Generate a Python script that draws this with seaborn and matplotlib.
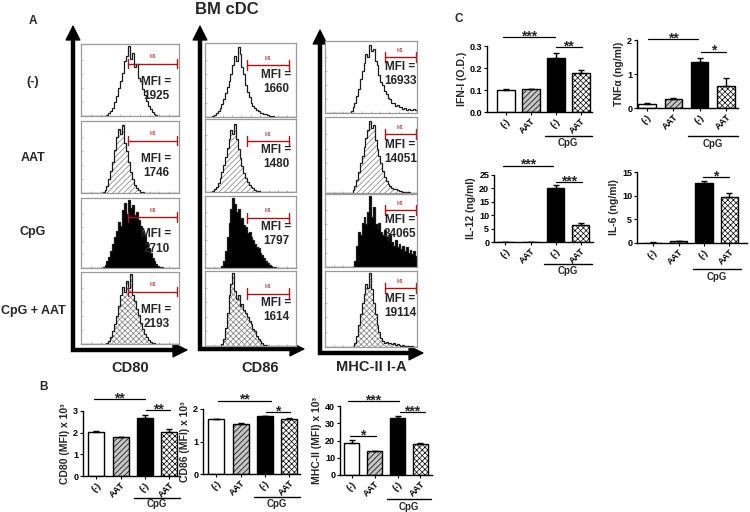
import numpy as np
import matplotlib
matplotlib.use("Agg")
import matplotlib.pyplot as plt
import matplotlib.transforms as mtransforms
import seaborn as sns

sns.set_theme(style="white")
plt.rcParams['font.family'] = ['Liberation Sans', 'DejaVu Sans']
plt.rcParams['font.weight'] = 'bold'
plt.rcParams['hatch.linewidth'] = 0.5

# ---------------- data ----------------
conditions = ["(-)", "AAT", "CpG", "CpG + AAT"]
markers = ["CD80", "CD86", "MHC-II I-A"]
mfi_cd80 = [1925, 1746, 2710, 2193]
mfi_cd86 = [1660, 1480, 1797, 1614]
mfi_mhc = [16933, 14051, 34065, 19114]

# histogram heights (50 equal bins across each box, relative to box height)
hist_cd80_neg = [0]*13 + [0.02, 0.04, 0.07, 0.12, 0.2, 0.28, 0.4, 0.5, 0.62, 0.78, 0.86, 1.0, 0.82,
                          0.9, 0.7, 0.74, 0.55, 0.5, 0.38, 0.3, 0.22, 0.15, 0.1, 0.06, 0.03, 0.01] + [0]*11
hist_cd80_aat = [0]*11 + [0.02, 0.05, 0.1, 0.2, 0.32, 0.45, 0.62, 0.8, 0.92, 0.85, 0.97, 0.72, 0.6,
                          0.45, 0.3, 0.2, 0.12, 0.07, 0.04, 0.02, 0.01] + [0]*18
hist_cd80_cpg = [0]*11 + [0.02, 0.05, 0.1, 0.16, 0.25, 0.35, 0.45, 0.55, 0.68, 0.62, 0.85, 0.95, 0.8,
                          1.0, 0.88, 0.92, 0.78, 0.82, 0.7, 0.62, 0.55, 0.48, 0.38, 0.3, 0.22, 0.15,
                          0.1, 0.06, 0.03, 0.02, 0.01] + [0]*8
hist_cd80_cpg_aat = [0]*13 + [0.02, 0.05, 0.1, 0.18, 0.28, 0.4, 0.55, 0.7, 0.82, 0.75, 0.9, 0.8, 1.0,
                              0.7, 0.62, 0.5, 0.42, 0.3, 0.22, 0.15, 0.1, 0.06, 0.03, 0.02, 0.01] + [0]*12
hist_cd86_neg = [0]*4 + [0.02, 0.03, 0.05, 0.08, 0.12, 0.18, 0.25, 0.33, 0.42, 0.5, 0.6, 0.72, 0.85,
                         0.78, 0.97, 0.88, 0.7, 0.6, 0.45, 0.35, 0.28, 0.2, 0.16, 0.12, 0.1, 0.08,
                         0.06, 0.05, 0.04, 0.04, 0.03, 0.02, 0.02, 0.01] + [0]*12
hist_cd86_aat = [0]*4 + [0.02, 0.04, 0.07, 0.12, 0.2, 0.28, 0.38, 0.5, 0.62, 0.75, 0.88, 0.82, 0.96,
                         0.75, 0.6, 0.48, 0.36, 0.27, 0.2, 0.14, 0.1, 0.07, 0.05, 0.03, 0.02, 0.01] + [0]*20
hist_cd86_cpg = [0]*9 + [0.03, 0.1, 0.25, 0.45, 0.65, 0.85, 1.0, 0.92, 0.8, 0.85, 0.7, 0.72, 0.62,
                         0.58, 0.5, 0.52, 0.44, 0.4, 0.35, 0.3, 0.28, 0.22, 0.18, 0.14, 0.1, 0.07,
                         0.05, 0.03, 0.02, 0.01] + [0]*11
hist_cd86_cpg_aat = [0]*9 + [0.03, 0.1, 0.25, 0.45, 0.7, 0.85, 1.0, 0.75, 0.65, 0.7, 0.55, 0.58, 0.5,
                             0.45, 0.4, 0.35, 0.3, 0.24, 0.2, 0.14, 0.1, 0.07, 0.04, 0.02, 0.01] + [0]*16
hist_mhc_neg = [0]*14 + [0.03, 0.08, 0.15, 0.25, 0.35, 0.48, 0.6, 0.72, 0.85, 0.8, 0.97, 0.88, 0.92,
                         0.75, 0.68, 0.55, 0.45, 0.4, 0.32, 0.27, 0.22, 0.2, 0.15, 0.14, 0.1, 0.11,
                         0.08, 0.09, 0.06, 0.07, 0.05, 0.06, 0.04, 0.05, 0.06, 0.04]
hist_mhc_aat = [0]*15 + [0.04, 0.1, 0.18, 0.28, 0.4, 0.5, 0.62, 0.75, 0.85, 0.97, 0.88, 0.92, 0.72,
                         0.6, 0.5, 0.4, 0.3, 0.22, 0.16, 0.12, 0.1, 0.07, 0.06, 0.05, 0.04, 0.03,
                         0.03, 0.02, 0.02, 0.01, 0.01] + [0]*4
hist_mhc_cpg = [0]*16 + [0.08, 0.3, 0.5, 0.45, 0.62, 0.7, 0.6, 0.78, 1.0, 0.7, 0.85, 0.6, 0.55,
                         0.62, 0.5, 0.45, 0.52, 0.42, 0.38, 0.45, 0.35, 0.3, 0.38, 0.28, 0.32, 0.25,
                         0.3, 0.22, 0.28, 0.2, 0.24, 0.18, 0.22, 0.15]
hist_mhc_cpg_aat = [0]*16 + [0.05, 0.15, 0.3, 0.45, 0.6, 0.72, 0.85, 0.8, 1.0, 0.78, 0.6, 0.45, 0.3,
                             0.2, 0.12, 0.08, 0.06, 0.07, 0.05, 0.06, 0.04, 0.05, 0.03, 0.04, 0.03,
                             0.02, 0.03, 0.02, 0.02, 0.01, 0.01, 0.01, 0, 0]

bar_groups = ["(-)", "AAT", "CpG (-)", "CpG AAT"]
bar_ticklabels = ["(-)", "AAT", "(-)", "AAT"]
cd80_mean = [2.03, 1.8, 2.68, 2.03]
cd80_err = [0.03, 0.02, 0.12, 0.13]
cd86_mean = [1.69, 1.54, 1.78, 1.69]
cd86_err = [0.015, 0.015, 0.01, 0.02]
mhc_mean = [18.5, 13.9, 33.0, 18.0]
mhc_err = [1.6, 0.2, 1.2, 0.6]
ifn_mean = [0.100, 0.103, 0.245, 0.177]
ifn_err = [0.004, 0.002, 0.022, 0.016]
tnf_mean = [0.12, 0.26, 1.35, 0.65]
tnf_err = [0.03, 0.02, 0.12, 0.23]
il12_mean = [0.0, 0.0, 20.1, 6.3]
il12_err = [0.0, 0.0, 1.1, 0.8]
il6_mean = [0.1, 0.35, 12.7, 9.7]
il6_err = [0.05, 0.1, 0.4, 0.9]

# ---------------- figure ----------------
W, H = 750, 512
fig = plt.figure(figsize=(W / 100, H / 100), dpi=100)


def add_ax(x0, y0, x1, y1, **kw):
    return fig.add_axes([x0 / W, 1 - y1 / H, (x1 - x0) / W, (y1 - y0) / H], **kw)


ov = add_ax(0, 0, W, H)
ov.set_xlim(0, W)
ov.set_ylim(H, 0)
ov.axis('off')

# panel labels & titles
ov.text(33, 21, "A", ha='center', va='center', fontsize=8.5, weight='bold')
ov.text(44, 387, "B", ha='center', va='center', fontsize=8.5, weight='bold')
ov.text(459, 19, "C", ha='center', va='center', fontsize=8.5, weight='bold')
ov.text(227, 9, "BM cDC", ha='center', va='center', fontsize=12, weight='bold')

row_label_y = [82, 158, 232, 311]
for lab, yy in zip(conditions, row_label_y):
    ov.text(33, yy, lab, ha='center', va='center', fontsize=9, weight='bold')

col_label_xy = [(130, 368), (260, 368), (371, 367)]
for lab, (xx, yy) in zip(markers, col_label_xy):
    ov.text(xx, yy, lab, ha='center', va='center', fontsize=10.5, weight='bold')

# big axis arrows
arrow_geo = [(73, 22, 350, 191), (200, 22, 349, 308), (320, 26, 353, 427)]
for ax_x, top_y, corner_y, right_x in arrow_geo:
    ov.plot([ax_x, ax_x, right_x - 8], [top_y + 8, corner_y, corner_y], color='black',
            lw=3.2, solid_joinstyle='miter', solid_capstyle='butt')
    ov.annotate('', xy=(ax_x, top_y), xytext=(ax_x, top_y + 10),
                arrowprops=dict(arrowstyle='-|>,head_width=0.35,head_length=0.7',
                                color='black', lw=1, mutation_scale=14))
    ov.annotate('', xy=(right_x, corner_y), xytext=(right_x - 10, corner_y),
                arrowprops=dict(arrowstyle='-|>,head_width=0.35,head_length=0.7',
                                color='black', lw=1, mutation_scale=14))

# histogram boxes
col_boxes = [
    (81, 179, [(44, 116), (121, 193), (198, 268), (272, 344)]),
    (205, 296, [(43, 117), (119, 192), (196, 268), (271, 346)]),
    (325, 417, [(41, 113), (117, 193), (194, 267), (271, 347)]),
]
hists = [
    [hist_cd80_neg, hist_cd80_aat, hist_cd80_cpg, hist_cd80_cpg_aat],
    [hist_cd86_neg, hist_cd86_aat, hist_cd86_cpg, hist_cd86_cpg_aat],
    [hist_mhc_neg, hist_mhc_aat, hist_mhc_cpg, hist_mhc_cpg_aat],
]
mfis = [mfi_cd80, mfi_cd86, mfi_mhc]
m1_geo = [(0.48, 0.98, 0.75), (0.46, 0.92, 0.72), (0.65, 0.985, 0.80)]
mfi_txt = [(0.77, 0.39), (0.78, 0.49), (0.82, 0.56)]
fills = [
    dict(facecolor='white', hatch=None),
    dict(facecolor='white', hatch='//////'),
    dict(facecolor='black', hatch=None),
    dict(facecolor='white', hatch='xxxxxx'),
]
red = '#a3171b'

for c, (x0, x1, rows) in enumerate(col_boxes):
    for r, (y0, y1) in enumerate(rows):
        ax = add_ax(x0, y0, x1, y1)
        vals = np.array(hists[c][r])
        edges = np.linspace(0, 1, len(vals) + 1)
        f = fills[r]
        if f['hatch']:
            ax.stairs(vals, edges, fill=True, facecolor='white', edgecolor='#7a7a7a',
                      hatch=f['hatch'], linewidth=0)
        elif f['facecolor'] == 'black':
            ax.stairs(vals, edges, fill=True, facecolor='black', edgecolor='black', linewidth=0)
        ax.stairs(vals, edges, color='#1a1a1a', linewidth=0.9)
        ax.set_xlim(0, 1)
        ax.set_ylim(0, 1.03)
        for s in ax.spines.values():
            s.set_color('#9a9a9a')
            s.set_linewidth(0.9)
        ax.set_xticks(np.linspace(0.1, 0.9, 9))
        ax.set_yticks(np.linspace(0.2, 0.8, 4))
        ax.tick_params(axis='both', direction='in', length=1.5, width=0.5,
                       colors='#9a9a9a', labelleft=False, labelbottom=False,
                       left=True, bottom=True)
        mx0, mx1, my = m1_geo[c]
        ax.plot([mx0, mx1], [my, my], color=red, lw=1.0)
        ax.plot([mx0, mx0], [my - 0.07, my + 0.07], color=red, lw=1.0)
        ax.plot([mx1, mx1], [my - 0.07, my + 0.07], color=red, lw=1.0)
        ax.text((mx0 + mx1) / 2, my + 0.06, "M1", color=red, fontsize=3.5,
                ha='center', va='bottom', weight='normal')
        tx, ty = mfi_txt[c]
        ax.text(tx, ty, f"MFI =\n{mfis[c][r]}", ha='center', va='center',
                fontsize=8.5, weight='bold', linespacing=1.25)

# ---------------- bar charts ----------------
bar_face = ['white', '#c4c4c4', 'black', 'white']
bar_hatch = [None, '//////', None, 'xxxxxx']


def bar_panel(box, means, errs, ylim, yticks, yfmt, ylabel, xlim, width,
              sigs, cpg_line_px, cpg_text_px):
    x0, y0, x1, y1 = box
    ax = add_ax(x0, y0, x1, y1)
    sns.barplot(x=bar_groups, y=means, order=bar_groups, hue=bar_groups,
                palette=bar_face, legend=False, width=width, edgecolor='black',
                linewidth=1.0, ax=ax, errorbar=None, saturation=1)
    for p, h in zip(ax.patches, bar_hatch):
        if h:
            p.set_hatch(h)
    ax.errorbar(range(4), means, yerr=[np.zeros(4), errs], fmt='none',
                ecolor='black', elinewidth=1.0, capsize=2.5, capthick=1.0, zorder=3)
    ax.set_xlim(*xlim)
    ax.set_ylim(*ylim)
    ax.set_yticks(yticks)
    ax.set_yticklabels([yfmt.format(t) for t in yticks], fontsize=6.5, weight='bold')
    ax.set_xticks(range(4))
    ax.set_xticklabels(bar_ticklabels, rotation=45, ha='right', rotation_mode='anchor',
                       fontsize=6.5, weight='bold')
    ax.set_xlabel('')
    ax.set_ylabel(ylabel, fontsize=7.5, weight='bold', labelpad=2)
    sns.despine(ax=ax)
    for s in ('left', 'bottom'):
        ax.spines[s].set_linewidth(1.0)
        ax.spines[s].set_color('black')
    ax.tick_params(axis='both', direction='out', length=2.5, width=0.8, pad=1,
                   colors='black', left=True, bottom=True)
    ax.set_facecolor('none')
    for xa, xb, ylev, lab in sigs:
        ax.plot([xa, xb], [ylev, ylev], color='black', lw=0.9, clip_on=False)
        ax.annotate(lab, xy=((xa + xb) / 2, ylev), xytext=(0, -2.2),
                    textcoords='offset points', ha='center', va='baseline',
                    fontsize=10, weight='bold', annotation_clip=False)
    hpx = y1 - y0
    tr = mtransforms.blended_transform_factory(ax.transData, ax.transAxes)
    ax.plot([1.55, 3.45], [-cpg_line_px / hpx] * 2, color='black', lw=1.0,
            transform=tr, clip_on=False)
    ax.text(2.5, -cpg_text_px / hpx, "CpG", ha='center', va='center', fontsize=7,
            weight='bold', transform=tr)
    return ax


# panel B
bar_panel((83, 411, 180, 476), cd80_mean, cd80_err, (0, 3), [0, 1, 2, 3], "{:d}",
          "CD80 (MFI) x 10³", (-0.55, 3.45), 0.66,
          [(-0.1, 2.0, 3.55, "**"), (2.05, 3.05, 3.05, "**")], 22, 28)
bar_panel((203, 409, 300, 474), cd86_mean, cd86_err, (0, 2), [0, 1, 2], "{:d}",
          "CD86 (MFI) x 10³", (-0.55, 3.45), 0.66,
          [(0.05, 2.25, 2.25, "**"), (2.05, 3.05, 1.91, "*")], 23, 30)
bar_panel((340, 406, 432, 475), mhc_mean, mhc_err, (0, 40), [0, 10, 20, 30, 40], "{:d}",
          "MHC-II (MFI) x 10³", (-0.5, 3.5), 0.68,
          [(-0.15, 2.05, 42.9, "***"), (2.1, 3.2, 36.5, "***"), (-0.05, 1.05, 22.6, "*")],
          24, 32)

# panel C
bar_panel((487, 46, 592, 112), ifn_mean, ifn_err, (0, 0.3), [0.0, 0.1, 0.2, 0.3], "{:.1f}",
          "IFN-I (O.D.)", (-0.75, 3.45), 0.7,
          [(-0.1, 1.95, 0.34, "***"), (2.0, 3.05, 0.295, "**")], 24, 31)
bar_panel((637, 40, 738, 108), tnf_mean, tnf_err, (0, 2), [0, 1, 2], "{:d}",
          "TNFα (ng/ml)", (-0.38, 3.45), 0.66,
          [(0.05, 1.95, 2.03, "**"), (2.05, 3.0, 1.65, "*")], 28, 36)
bar_panel((494, 175, 593, 242), il12_mean, il12_err, (0, 25), [0, 5, 10, 15, 20, 25], "{:d}",
          "IL-12 (ng/ml)", (-0.46, 3.5), 0.7,
          [(-0.1, 1.9, 28.4, "***"), (2.0, 3.05, 22.4, "***")], 22, 29)
bar_panel((637, 172, 747, 243), il6_mean, il6_err, (0, 15), [0, 5, 10, 15], "{:d}",
          "IL-6 (ng/ml)", (-0.63, 3.69), 0.7,
          [(1.95, 3.0, 13.9, "*")], 26, 34)

fig.savefig("out.png", dpi=100)
